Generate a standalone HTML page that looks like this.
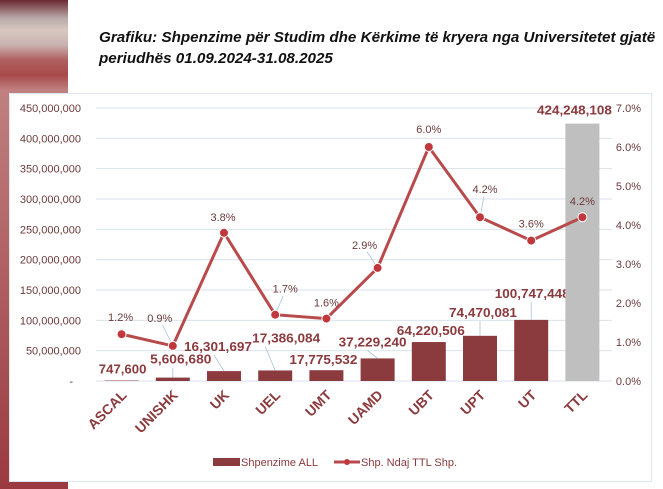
<!DOCTYPE html>
<html><head><meta charset="utf-8"><style>
body{margin:0;width:663px;height:489px;background:#fff;position:relative;overflow:hidden;font-family:"Liberation Sans",sans-serif}
#photo{position:absolute;left:0;top:0;width:68px;height:489px;background:linear-gradient(180deg,#6a2a30 0px,#b8a8a8 18px,#d8c8c0 30px,#c9b2b0 45px,#b06060 60px,#a84a4a 75px,#c08080 90px,#9a3a40 100%)}
#box{position:absolute;left:9px;top:93px;width:643px;height:389px;background:#fff;border:1px solid #dde5ee;box-sizing:border-box}
#title{position:absolute;left:99px;top:27px;font-size:15.2px;font-weight:bold;font-style:italic;line-height:21px;color:#111;white-space:nowrap}
svg{position:absolute;left:0;top:0}
</style></head><body>
<div id="photo"></div>
<div id="box"></div>
<div id="title">Grafiku: Shpenzime për Studim dhe Kërkime të kryera nga Universitetet gjatë<br>periudhës 01.09.2024-31.08.2025</div>
<svg id="c" width="663" height="489"></svg>
<script>
const categories=["ASCAL","UNISHK","UK","UEL","UMT","UAMD","UBT","UPT","UT","TTL"];
const spending=[747600,5606680,16301697,17386084,17775532,37229240,64220506,74470081,100747448,424248108];
const spendingLabels=["747,600","5,606,680","16,301,697","17,386,084","17,775,532","37,229,240","64,220,506","74,470,081","100,747,448","424,248,108"];
const share=[1.2,0.9,3.8,1.7,1.6,2.9,6.0,4.2,3.6,4.2];
const leftTicks=[0,50000000,100000000,150000000,200000000,250000000,300000000,350000000,400000000,450000000];
const rightTicks=[0,1,2,3,4,5,6,7];
const ns="http://www.w3.org/2000/svg";const svg=document.getElementById('c');
const X0=96,X1=608,Y0=381,Y1=108;
const bw=(X1-X0)/categories.length;
function xc(i){return X0+bw*(i+0.5);}
function yl(v){return Y0-(v/450000000)*(Y0-Y1);}
function yr(v){return Y0-(v/7)*(Y0-Y1);}
function el(t,a,p){const e=document.createElementNS(ns,t);for(const k in a)e.setAttribute(k,a[k]);(p||svg).appendChild(e);return e;}
function fmt(v){return v===0?"-":v.toLocaleString('en-US');}
leftTicks.forEach(v=>{
 const g=el('line',{x1:X0,x2:612,y1:yl(v),y2:yl(v),stroke:'#d9e2ec','stroke-width':1});
 
 const t=el('text',{x:v===0?73:81,y:yl(v)+4,'text-anchor':'end','font-size':11,fill:'#6b3a3a'});t.textContent=fmt(v);
 
});
rightTicks.forEach(v=>{
 const t=el('text',{x:641,y:yr(v)+4,'text-anchor':'end','font-size':11,fill:'#6b3a3a'});t.textContent=v.toFixed(1)+"%";
 
});
const lblOff=[[1,-7],[8,-14],[-6,-20],[11,-28],[-3,-6],[-5,-12],[2,-7],[3,-19],[1,-22],[-8,-9]];
spending.forEach((v,i)=>{
 const b=el('rect',{x:xc(i)-17,y:yl(v),width:34,height:Y0-yl(v),fill:i===9?'#bfbfbf':'#8b3a3e'});
 
 const o=lblOff[i];const lx=xc(i)+o[0],ly=yl(v)+o[1];
 if(i>=1&&i<=8&&o[1]<-10){const l=el('line',{x1:xc(i),y1:yl(v),x2:(i==2||i==3||i==5)?xc(i)-10:xc(i),y2:ly+4,stroke:'#9bbbd4','stroke-width':0.7});
 }
 const t=el('text',{x:lx,y:ly,'text-anchor':'middle','font-size':13,'font-weight':'bold',fill:'#8b3a3e',textLength:spendingLabels[i].length*6.8,lengthAdjust:'spacingAndGlyphs'});t.textContent=spendingLabels[i];
 
 const c=el('text',{x:0,y:0,'text-anchor':'end','font-size':14,'font-weight':'bold',fill:'#8b3a3e',transform:`translate(${xc(i)+6},${396}) rotate(-45)`});c.textContent=categories[i];
 
});
const pts=share.map((v,i)=>xc(i)+','+yr(v)).join(' ');
const pl=el('polyline',{points:pts,fill:'none',stroke:'#b84a4c','stroke-width':3});

const pOff=[[-1,-13],[-13,-24],[-1,-12],[10,-22],[0,-12],[-13,-19],[0,-14],[5,-24],[0,-13],[0,-12]];
share.forEach((v,i)=>{
 if(pOff[i][1]<-18){const l=el('line',{x1:xc(i),y1:yr(v),x2:xc(i)+pOff[i][0]*0.8,y2:yr(v)+pOff[i][1]+3,stroke:'#9bbbd4','stroke-width':0.7});
 }
 const p=el('circle',{cx:xc(i),cy:yr(v),r:4.5,fill:'#c0383c',stroke:'#fff','stroke-width':1});
 
 const t=el('text',{x:xc(i)+pOff[i][0],y:yr(v)+pOff[i][1],'text-anchor':'middle','font-size':11,fill:'#6b3a3a'});t.textContent=v.toFixed(1)+"%";
 
});
const lg=el('g',{});
const s1=el('rect',{x:213,y:458,width:27,height:8,fill:'#8b3a3e'},lg);

const t1=el('text',{x:241,y:466,'font-size':11,fill:'#8b3a3e'},lg);t1.textContent="Shpenzime ALL";

const s2=el('line',{x1:334,x2:360,y1:462,y2:462,stroke:'#b84a4c','stroke-width':3},lg);

el('circle',{cx:347,cy:462,r:3,fill:'#c0383c'},lg);
const t2=el('text',{x:361,y:466,'font-size':11,fill:'#8b3a3e'},lg);t2.textContent="Shp. Ndaj TTL Shp.";

</script>
</body></html>
